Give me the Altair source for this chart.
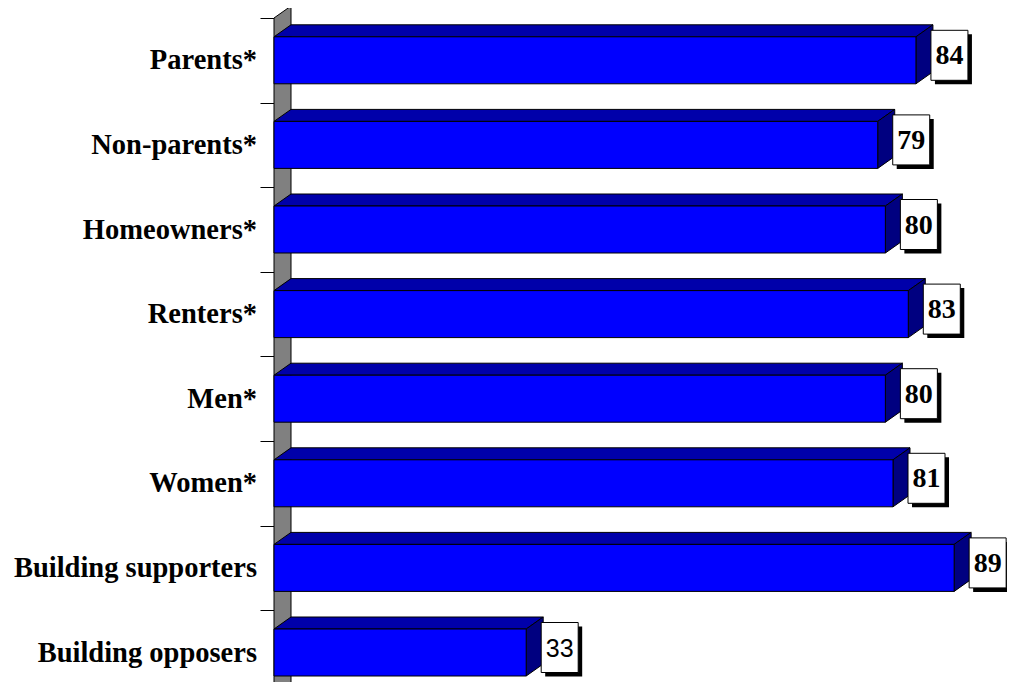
import altair as alt
import pandas as pd

categories = ["Parents*", "Non-parents*", "Homeowners*", "Renters*", "Men*",
              "Women*", "Building supporters", "Building opposers"]
values = [84, 79, 80, 83, 80, 81, 89, 33]

# geometry constants (data units)
PX_X = 726 / 95.0          # pixels per x unit
PX_Y = 84.6                # pixels per category band
HALF = 23.5 / PX_Y         # half-height of front face
DY = 12 / PX_Y             # 3D depth (vertical)
DX = 17 / PX_X             # 3D depth (horizontal)
PLOT_H = 664
Y_MAX = -0.5 + PLOT_H / PX_Y

front_rows, top_rows, side_rows = [], [], []
for i, (c, v) in enumerate(zip(categories, values)):
    front_rows.append({"cat": c, "i": i, "v": v, "y": i - HALF, "y2": i + HALF})
    top_rows.append({"cat": c, "y": i - HALF, "x": 0, "x2": v})
    top_rows.append({"cat": c, "y": i - HALF - DY, "x": DX, "x2": v + DX})
    side_rows.append({"cat": c, "x": v, "y": i - HALF, "y2": i + HALF})
    side_rows.append({"cat": c, "x": v + DX, "y": i - HALF - DY, "y2": i + HALF - DY})

front = pd.DataFrame(front_rows)
top = pd.DataFrame(top_rows)
side = pd.DataFrame(side_rows)
n = len(categories)
wall = pd.DataFrame([
    {"g": "wall", "x": 0, "y": -0.5, "y2": n - 0.5},
    {"g": "wall", "x": DX, "y": -0.5 - DY, "y2": n - 0.5 - DY},
])

xs = alt.Scale(domain=[0, 95], nice=False, zero=False)
ys = alt.Scale(domain=[-0.5, Y_MAX], reverse=True, nice=False, zero=False)
yaxis = alt.Axis(title=None, labels=False, grid=False, ticks=True, tickSize=14,
                 tickColor="black", domainColor="black", domainWidth=1, tickWidth=1,
                 values=[k - 0.5 for k in range(n + 1)])

def X(f):
    return alt.X(f, scale=xs, axis=None)

def Y(f):
    return alt.Y(f, scale=ys, axis=yaxis)

wall_l = alt.Chart(wall).mark_area(orient="vertical", color="#808080",
                                   stroke="black", strokeWidth=1).encode(
    x=X("x:Q"), y=Y("y:Q"), y2="y2:Q", detail="g:N")

top_l = alt.Chart(top).mark_area(orient="horizontal", color="#0000AA",
                                 stroke="black", strokeWidth=1).encode(
    y=Y("y:Q"), x=X("x:Q"), x2="x2:Q", detail="cat:N")

side_l = alt.Chart(side).mark_area(orient="vertical", color="#000080",
                                   stroke="black", strokeWidth=1).encode(
    x=X("x:Q"), y=Y("y:Q"), y2="y2:Q", detail="cat:N")

front_l = alt.Chart(front).mark_rect(color="#0000FF", stroke="black",
                                     strokeWidth=1).encode(
    x=X("zero:Q"), x2="v:Q", y=Y("y:Q"), y2="y2:Q").transform_calculate(zero="0")

shadow_l = alt.Chart(front).mark_rect(color="black", xOffset=19, x2Offset=56,
                                      yOffset=-26, y2Offset=24).encode(
    x=X("v:Q"), x2="v:Q", y=Y("i:Q"), y2="i:Q")

box_l = alt.Chart(front).mark_rect(color="white", stroke="black", strokeWidth=1,
                                   xOffset=15, x2Offset=52,
                                   yOffset=-30, y2Offset=20).encode(
    x=X("v:Q"), x2="v:Q", y=Y("i:Q"), y2="i:Q")

num_bold = alt.Chart(front).transform_filter(
    alt.datum.cat != "Building opposers").mark_text(
    font="Liberation Serif", fontWeight="bold", fontSize=28, color="black",
    align="center", baseline="middle", dx=33.5, dy=-4).encode(
    x=X("v:Q"), y=Y("i:Q"), text="v:Q")

num_plain = alt.Chart(front).transform_filter(
    alt.datum.cat == "Building opposers").mark_text(
    font="Liberation Sans", fontWeight="normal", fontSize=25, color="black",
    align="center", baseline="middle", dx=33.5, dy=-4).encode(
    x=X("v:Q"), y=Y("i:Q"), text="v:Q")

labels_l = alt.Chart(front).mark_text(
    font="Liberation Serif", fontWeight="bold", fontSize=28.5, color="black",
    align="right", baseline="middle", dx=-17).encode(
    x=X("zero:Q"), y=Y("i:Q"), text="cat:N").transform_calculate(zero="0")

chart = alt.layer(wall_l, top_l, side_l, front_l, shadow_l, box_l,
                  num_bold, num_plain, labels_l).properties(
    width=726, height=PLOT_H,
    autosize=alt.AutoSizeParams(type="none"),
    padding={"left": 266, "top": 10, "right": 7, "bottom": 0},
    background="white",
).configure_view(stroke=None)

chart.save("out.html", embed_options={"renderer": "svg", "actions": False})
